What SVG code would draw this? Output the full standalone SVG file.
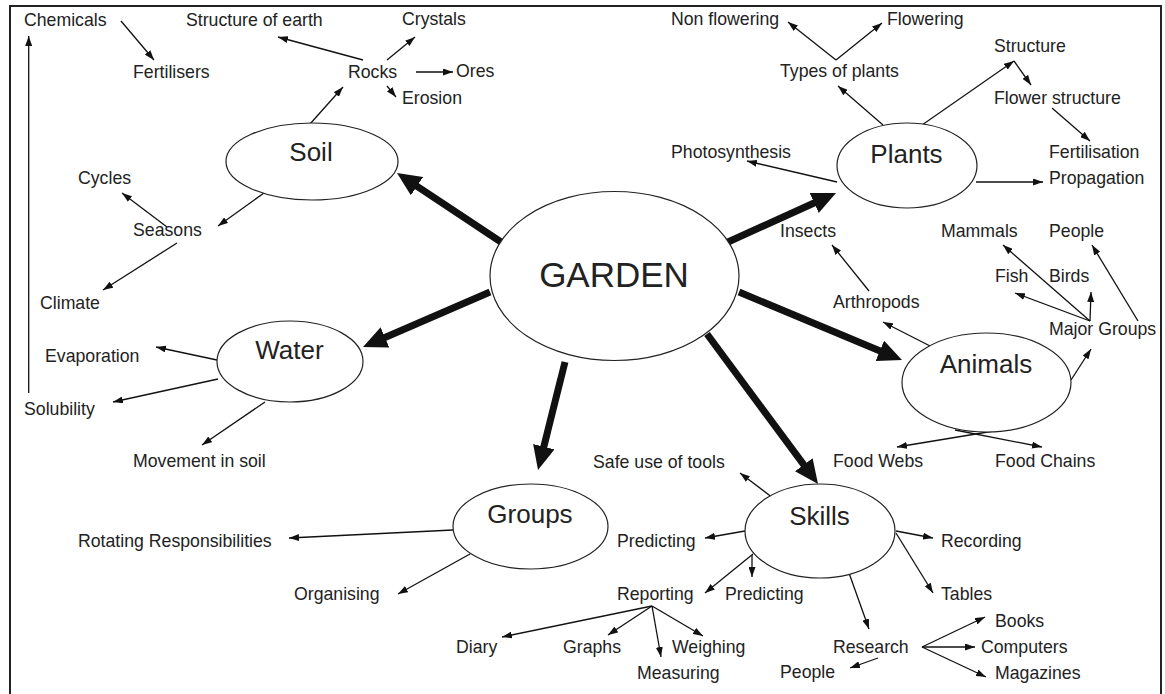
<svg xmlns="http://www.w3.org/2000/svg" width="1165" height="694" viewBox="0 0 1165 694">
<defs>
<marker id="a" markerUnits="userSpaceOnUse" markerWidth="10" markerHeight="7" refX="10" refY="3.5" orient="auto"><path d="M0,0 L10,3.5 L0,7 z" fill="#111"/></marker>
<marker id="b" markerUnits="userSpaceOnUse" markerWidth="24" markerHeight="22" refX="12" refY="11" orient="auto"><path d="M0,0 L24,11 L0,22 z" fill="#111"/></marker>
</defs>
<style>
text{font-family:"Liberation Sans",Arial,Helvetica,sans-serif;fill:#222;font-size:17.7px}
.n{font-size:26px;text-anchor:middle}
.g{font-size:35px;text-anchor:middle}
ellipse{fill:#fff;stroke:#222;stroke-width:1.2}
.t line{stroke:#111;stroke-width:1.3;marker-end:url(#a)}
.k line{stroke:#111;stroke-width:7;marker-end:url(#b)}
</style>
<rect x="10" y="6" width="1151" height="700" fill="#fff" stroke="#222" stroke-width="2"/>
<g id="connectors">
<g class="t">
<line x1="121" y1="21" x2="154" y2="60"/>
<line x1="363" y1="60" x2="278" y2="37"/>
<line x1="387" y1="60" x2="415" y2="37"/>
<line x1="387" y1="86" x2="396" y2="97"/>
<line x1="416" y1="72" x2="453" y2="72"/>
<line x1="310" y1="124" x2="343" y2="87"/>
<line x1="264" y1="193" x2="218" y2="226"/>
<line x1="167" y1="227" x2="122" y2="193"/>
<line x1="177" y1="243" x2="103" y2="290"/>
<line x1="28.7" y1="393" x2="28.7" y2="36"/>
<line x1="217" y1="360" x2="156" y2="347"/>
<line x1="218" y1="379" x2="113" y2="402"/>
<line x1="265" y1="402" x2="202" y2="445"/>
<line x1="836" y1="60" x2="788" y2="22"/>
<line x1="836" y1="60" x2="882" y2="23"/>
<line x1="883" y1="125" x2="838" y2="86"/>
<line x1="922" y1="125" x2="1014" y2="61"/>
<line x1="1014" y1="61" x2="1031" y2="85"/>
<line x1="1052" y1="108" x2="1090" y2="141"/>
<line x1="976" y1="182" x2="1043" y2="182"/>
<line x1="837" y1="182" x2="747" y2="161"/>
<line x1="869" y1="291" x2="832" y2="245"/>
<line x1="934" y1="348" x2="883" y2="322"/>
<line x1="1090" y1="321" x2="1003" y2="245"/>
<line x1="1090" y1="321" x2="1015" y2="293"/>
<line x1="1090" y1="321" x2="1091" y2="292"/>
<line x1="1138" y1="321" x2="1092" y2="245"/>
<line x1="1071" y1="380" x2="1091" y2="349"/>
<line x1="1000" y1="430" x2="897" y2="447"/>
<line x1="955" y1="430" x2="1042" y2="447"/>
<line x1="773" y1="498" x2="740" y2="473"/>
<line x1="745" y1="531" x2="705" y2="538"/>
<line x1="753" y1="554" x2="705" y2="593"/>
<line x1="752" y1="555" x2="752" y2="577"/>
<line x1="896" y1="531" x2="933" y2="538"/>
<line x1="896" y1="533" x2="933" y2="593"/>
<line x1="849" y1="573" x2="869" y2="629"/>
<line x1="878" y1="658" x2="850" y2="668"/>
<line x1="922" y1="647" x2="985" y2="617"/>
<line x1="922" y1="647" x2="975" y2="647"/>
<line x1="922" y1="647" x2="986" y2="677"/>
<line x1="652" y1="606" x2="502" y2="637"/>
<line x1="652" y1="606" x2="608" y2="635"/>
<line x1="652" y1="606" x2="661" y2="657"/>
<line x1="652" y1="606" x2="703" y2="636"/>
<line x1="453" y1="530" x2="289" y2="538"/>
<line x1="470" y1="554" x2="398" y2="594"/>
</g>
<g class="k">
<line x1="501" y1="242" x2="407" y2="179.6"/>
<line x1="490" y1="292" x2="374" y2="342.2"/>
<line x1="728" y1="242" x2="825.1" y2="198"/>
<line x1="739" y1="292" x2="890.9" y2="355.4"/>
<line x1="565" y1="362" x2="540.9" y2="458.4"/>
<line x1="707" y1="334" x2="810.9" y2="474.4"/>
</g>
</g>
<g id="garden"><ellipse cx="614.5" cy="276" rx="124.5" ry="84.5"/><text class="g" x="614" y="287">GARDEN</text></g>
<g id="soil"><ellipse cx="312" cy="161.5" rx="86" ry="38.5"/><text class="n" x="311" y="161">Soil</text></g>
<g id="plants"><ellipse cx="907" cy="165.5" rx="70" ry="42.5"/><text class="n" x="906.5" y="163">Plants</text></g>
<g id="water"><ellipse cx="290" cy="361.5" rx="73" ry="40.5"/><text class="n" x="289.5" y="359">Water</text></g>
<g id="animals"><ellipse cx="986.5" cy="382.5" rx="84.5" ry="49.5"/><text class="n" x="986" y="373">Animals</text></g>
<g id="groups"><ellipse cx="530.5" cy="526.5" rx="77.5" ry="42.5"/><text class="n" x="530" y="523">Groups</text></g>
<g id="skills"><ellipse cx="820" cy="531" rx="75" ry="47"/><text class="n" x="819.5" y="525">Skills</text></g>
<g id="labels">
<text x="24" y="26">Chemicals</text>
<text x="186" y="26">Structure of earth</text>
<text x="402" y="25">Crystals</text>
<text x="133" y="78">Fertilisers</text>
<text x="348" y="78">Rocks</text>
<text x="456" y="77">Ores</text>
<text x="402" y="104">Erosion</text>
<text x="78" y="184">Cycles</text>
<text x="133" y="236">Seasons</text>
<text x="40" y="309">Climate</text>
<text x="45" y="362">Evaporation</text>
<text x="24" y="415">Solubility</text>
<text x="133" y="467">Movement in soil</text>
<text x="671" y="25">Non flowering</text>
<text x="887" y="25">Flowering</text>
<text x="780" y="77">Types of plants</text>
<text x="994" y="52">Structure</text>
<text x="994" y="104">Flower structure</text>
<text x="671" y="158">Photosynthesis</text>
<text x="1049" y="158">Fertilisation</text>
<text x="1049" y="184">Propagation</text>
<text x="780" y="237">Insects</text>
<text x="941" y="237">Mammals</text>
<text x="1049" y="237">People</text>
<text x="995" y="282">Fish</text>
<text x="1049" y="282">Birds</text>
<text x="833" y="308">Arthropods</text>
<text x="1049" y="335">Major Groups</text>
<text x="833" y="467">Food Webs</text>
<text x="995" y="467">Food Chains</text>
<text x="593" y="468">Safe use of tools</text>
<text x="617" y="547">Predicting</text>
<text x="941" y="547">Recording</text>
<text x="78" y="547">Rotating Responsibilities</text>
<text x="294" y="600">Organising</text>
<text x="617" y="600">Reporting</text>
<text x="725" y="600">Predicting</text>
<text x="941" y="600">Tables</text>
<text x="995" y="627">Books</text>
<text x="456" y="653">Diary</text>
<text x="563" y="653">Graphs</text>
<text x="672" y="653">Weighing</text>
<text x="833" y="653">Research</text>
<text x="981" y="653">Computers</text>
<text x="637" y="679">Measuring</text>
<text x="780" y="678">People</text>
<text x="995" y="679">Magazines</text>
</g>
</svg>
